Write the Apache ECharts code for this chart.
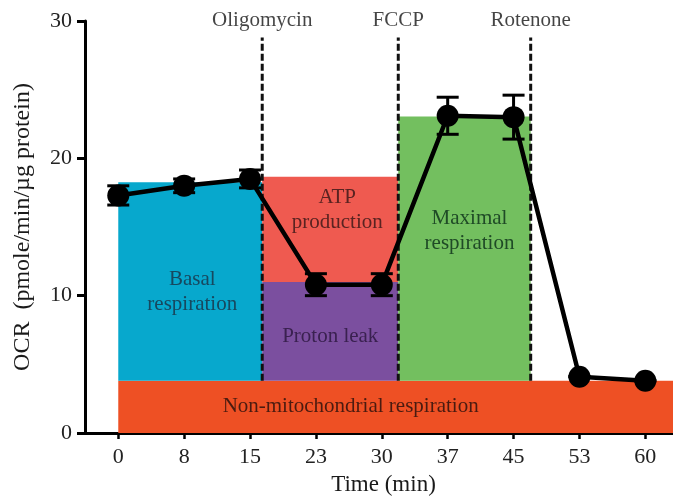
<!DOCTYPE html>
<html>
<head>
<meta charset="utf-8">
<script src="https://cdn.jsdelivr.net/npm/echarts@6/dist/echarts.min.js"></script>
<style>html,body{margin:0;padding:0;background:#fff;}#c{width:673px;height:501px;}</style>
</head>
<body>
<div id="c"></div>
<script>
// ---- data ----
var tickLabels = ['0', '8', '15', '23', '30', '37', '45', '53', '60'];
var ocrMean = [17.3, 18.0, 18.5, 10.8, 10.8, 23.1, 23.0, 4.1, 3.8];
var ocrErr  = [0.7, 0.5, 0.65, 0.8, 0.8, 1.35, 1.6, 0, 0];
var drugNames = ['Oligomycin', 'FCCP', 'Rotenone'];
var drugPos = [2.185, 4.25, 6.26];
var drugLineBottom = 3.8;
var drugLineTop = 28.8;
var regionNames = ['Non-mitochondrial respiration', 'Basal\nrespiration', 'ATP\nproduction', 'Proton leak', 'Maximal\nrespiration'];
var regionX0 = [0, 0, 2.185, 2.185, 4.25];
var regionX1 = [8.42, 2.185, 4.25, 4.25, 6.26];
var regionY0 = [0, 3.8, 11.0, 3.8, 3.8];
var regionY1 = [3.8, 18.25, 18.65, 11.0, 23.05];

// ---- styles ----
var regionColors = ['#EE5024', '#07A8CD', '#EF5A50', '#7B4F9F', '#73BF5F'];
var regionTextColors = ['#4A1B10', '#17485F', '#5A2321', '#3A2150', '#1F4A26'];
var regionOffsets = [[-45, 0], [2, 10], [7, -19], [0, 5], [5, -18]];
var serif = '"Liberation Serif", "Times New Roman", serif';

var areas = regionNames.map(function (n, i) {
  return [
    { name: n, xAxis: regionX0[i], yAxis: regionY0[i],
      itemStyle: { color: regionColors[i], opacity: 1 },
      label: { color: regionTextColors[i], offset: regionOffsets[i] } },
    { xAxis: regionX1[i], yAxis: regionY1[i] }
  ];
});

var series = [
  {
    type: 'line', data: [], z: 1, silent: true,
    markArea: {
      silent: true,
      label: { show: true, position: 'inside', fontFamily: serif, fontSize: 21, lineHeight: 25, align: 'center', verticalAlign: 'middle' },
      data: areas
    }
  }
];

drugNames.forEach(function (d, i) {
  series.push({
    type: 'line', z: 2, silent: true, symbol: 'none',
    data: [[drugPos[i], drugLineBottom], [drugPos[i], drugLineTop]],
    lineStyle: { color: '#111', width: 3, type: [7, 3] }
  });
});

series.push({
  type: 'scatter', z: 2, silent: true, symbolSize: 1,
  itemStyle: { color: 'rgba(0,0,0,0)' },
  data: drugNames.map(function (d, i) { return [drugPos[i], drugLineTop, d]; }),
  label: { show: true, position: 'top', distance: 6, fontFamily: serif, fontSize: 21, color: '#151515',
    formatter: function (p) { return p.value[2]; } }
});

series.push({
  type: 'custom', z: 3, silent: true,
  data: ocrMean.map(function (m, i) { return [i, m - ocrErr[i], m + ocrErr[i]]; }),
  renderItem: function (params, api) {
    var lo = api.coord([api.value(0), api.value(1)]);
    var hi = api.coord([api.value(0), api.value(2)]);
    var hw = 11;
    var st = { stroke: '#000', lineWidth: 3 };
    return { type: 'group', children: [
      { type: 'line', shape: { x1: lo[0], y1: lo[1], x2: hi[0], y2: hi[1] }, style: st },
      { type: 'line', shape: { x1: lo[0] - hw, y1: lo[1], x2: lo[0] + hw, y2: lo[1] }, style: st },
      { type: 'line', shape: { x1: hi[0] - hw, y1: hi[1], x2: hi[0] + hw, y2: hi[1] }, style: st }
    ]};
  }
});

series.push({
  type: 'line', z: 4, silent: true,
  data: ocrMean.map(function (m, i) { return [i, m]; }),
  symbol: 'circle', symbolSize: 22,
  itemStyle: { color: '#000' },
  lineStyle: { color: '#000', width: 4.5 }
});

var chart = echarts.init(document.getElementById('c'), null, { renderer: 'canvas' });
chart.setOption({
  animation: false,
  backgroundColor: '#fff',
  grid: { left: 85, right: 0, top: 21, bottom: 67, containLabel: false },
  xAxis: {
    type: 'value', min: -0.505, max: 8.42,
    name: 'Time (min)', nameLocation: 'middle', nameGap: 40,
    nameTextStyle: { fontFamily: serif, fontSize: 23, color: '#1a1a1a', padding: [0, 0, 0, 9] },
    axisLine: { onZero: false, lineStyle: { color: '#000', width: 3 } },
    axisTick: { show: true, length: 6, lineStyle: { color: '#000', width: 2.5 }, customValues: [0, 1, 2, 3, 4, 5, 6, 7, 8] },
    axisLabel: { fontFamily: serif, fontSize: 22, color: '#222', margin: 13,
      customValues: [0, 1, 2, 3, 4, 5, 6, 7, 8],
      formatter: function (v) { return tickLabels[Math.round(v)]; } },
    splitLine: { show: false }
  },
  yAxis: {
    type: 'value', min: 0, max: 30, interval: 10,
    name: 'OCR  (pmole/min/\u00b5g protein)', nameLocation: 'middle', nameGap: 50, nameRotate: 90,
    nameTextStyle: { fontFamily: serif, fontSize: 24, color: '#1a1a1a' },
    axisLine: { show: true, onZero: false, lineStyle: { color: '#000', width: 3 } },
    axisTick: { show: true, length: 8, lineStyle: { color: '#000', width: 3 } },
    axisLabel: { fontFamily: serif, fontSize: 22, color: '#222', margin: 13 },
    splitLine: { show: false }
  },
  series: series
});
</script>
</body>
</html>
